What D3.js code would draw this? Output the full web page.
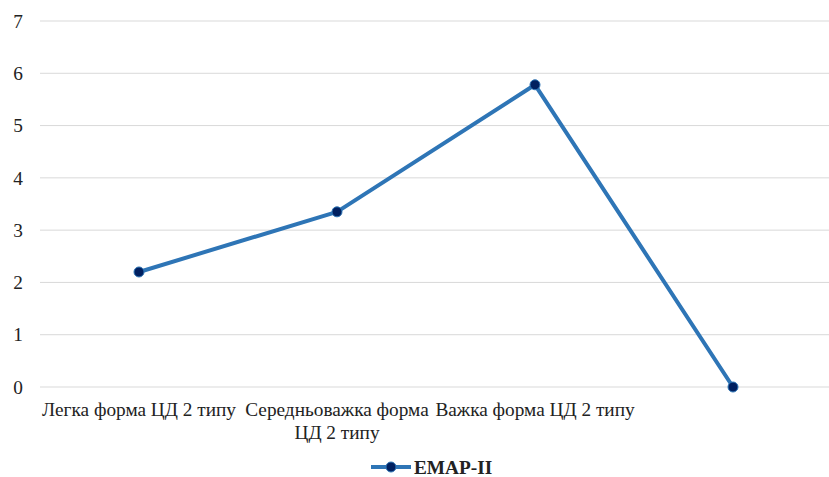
<!DOCTYPE html>
<html><head><meta charset="utf-8">
<script src="https://cdn.jsdelivr.net/npm/d3@7"></script>
<style>body{margin:0;background:#fff} svg, svg text, svg tspan{font-family:"Liberation Serif", Tinos, "Times New Roman", serif !important}</style>
</head><body>
<svg id="c" width="829" height="477"></svg>
<script>
const categories = [["Легка форма ЦД 2 типу"], ["Середньоважка форма", "ЦД 2 типу"], ["Важка форма ЦД 2 типу"], [""]];
const values = [2.2, 3.35, 5.78, 0];
const yTicks = [0, 1, 2, 3, 4, 5, 6, 7];
const seriesName = "EMAP-II";

const FF = '"Liberation Serif", Tinos, "Times New Roman", serif';
const FS = "19.3px";
const svg = d3.select("#c");
const x = d3.scaleBand().domain(d3.range(categories.length)).range([40, 832]);
const y = d3.scaleLinear().domain([0, 7]).range([387, 21]);

svg.append("g").selectAll("line").data(yTicks).join("line")
  .attr("x1", 40).attr("x2", 829)
  .attr("y1", d => y(d)).attr("y2", d => y(d))
  .attr("stroke", "#d9d9d9").attr("stroke-width", 1);

svg.append("g").selectAll("text").data(yTicks).join("text")
  .attr("x", 23).attr("y", d => y(d)).attr("dy", "0.35em")
  .attr("text-anchor", "end").style("font-family", FF).style("font-size", FS)
  .attr("fill", "#222").text(d => d);

const cat = svg.append("g").selectAll("text").data(categories).join("text")
  .attr("x", (d, i) => x(i) + x.bandwidth() / 2).attr("y", 416)
  .attr("text-anchor", "middle").style("font-family", FF).style("font-size", FS).attr("fill", "#222");
cat.selectAll("tspan").data(d => d).join("tspan")
  .attr("x", function () { return this.parentNode.getAttribute("x"); })
  .attr("dy", (d, i) => i ? 23 : 0).text(d => d);

const cx = i => x(i) + x.bandwidth() / 2;
svg.append("path").datum(values)
  .attr("d", d3.line().x((d, i) => cx(i)).y(d => y(d)))
  .attr("fill", "none").attr("stroke", "#2E75B6").attr("stroke-width", 4).attr("stroke-linejoin", "round");
svg.append("g").selectAll("circle").data(values).join("circle")
  .attr("cx", (d, i) => cx(i)).attr("cy", d => y(d)).attr("r", 5)
  .attr("fill", "#002060").attr("stroke", "#2E75B6").attr("stroke-width", 1);

const lg = svg.append("g");
lg.append("line").attr("x1", 371).attr("x2", 411).attr("y1", 467).attr("y2", 467)
  .attr("stroke", "#2E75B6").attr("stroke-width", 4);
lg.append("circle").attr("cx", 391).attr("cy", 467).attr("r", 5)
  .attr("fill", "#002060").attr("stroke", "#2E75B6").attr("stroke-width", 1);
lg.append("text").attr("x", 414).attr("y", 467).attr("dy", "0.35em")
  .style("font-family", FF).style("font-size", FS).style("font-weight", "bold").attr("fill", "#222").text(seriesName);
</script>
</body></html>
